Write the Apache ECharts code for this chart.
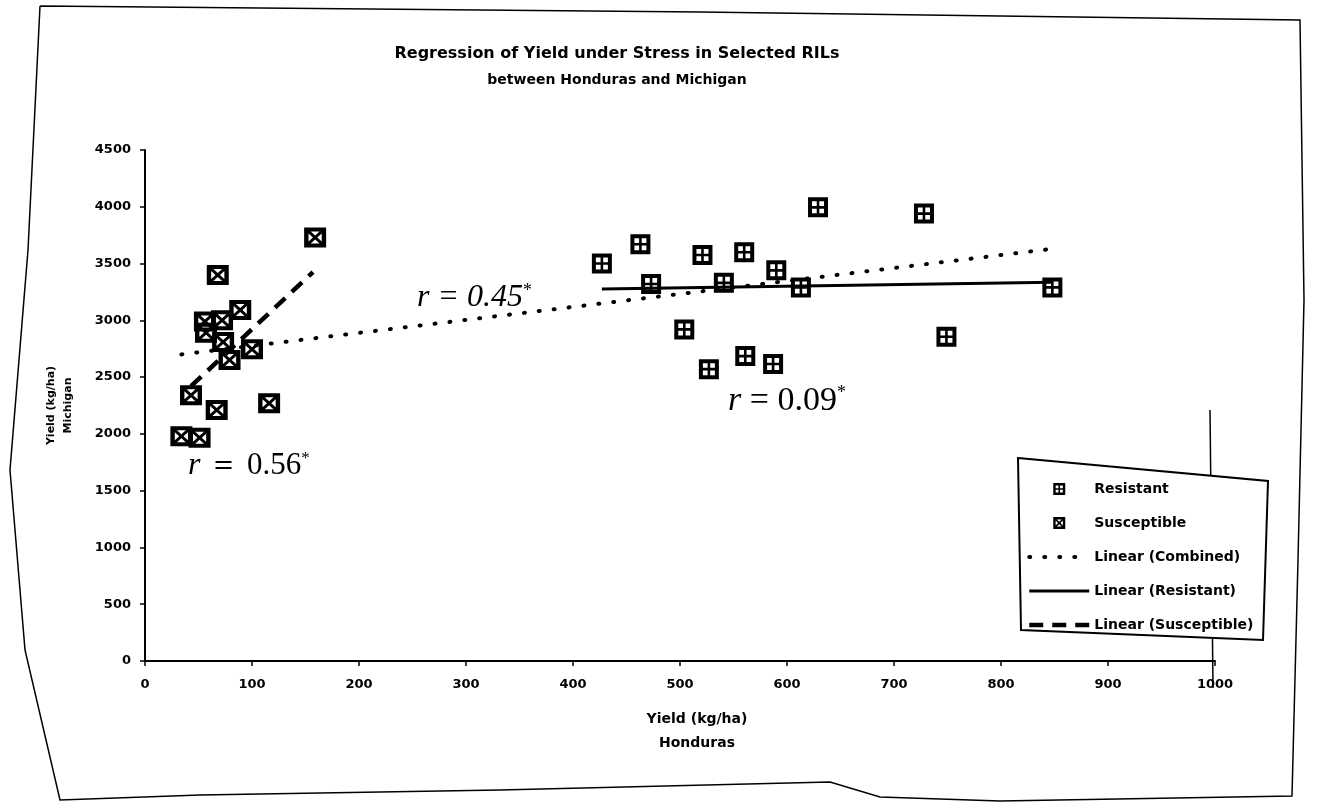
<!DOCTYPE html>
<html>
<head>
<meta charset="utf-8">
<script src="https://cdn.jsdelivr.net/npm/echarts@6/dist/echarts.min.js"></script>
<style>
  html, body { margin: 0; padding: 0; background: #fff; }
  #chart { width: 1317px; height: 810px; }
</style>
</head>
<body>
<div id="chart"></div>
<script>
// Yield (kg/ha) of selected RILs under stress: Honduras (x) against Michigan (y)
const resistantHonduras   = [427, 463, 473, 521, 560, 541, 590, 504, 527, 561, 587, 613, 629, 728, 848, 749];
const resistantMichigan   = [3500, 3670, 3320, 3575, 3600, 3330, 3440, 2920, 2570, 2685, 2615, 3290, 3995, 3940, 3290, 2855];
const susceptibleHonduras = [159, 68, 89, 56, 57, 72, 73, 79, 100, 43, 67, 116, 34, 51];
const susceptibleMichigan = [3730, 3400, 3090, 2990, 2890, 3000, 2810, 2650, 2745, 2340, 2210, 2270, 1980, 1965];

// Linear trend lines, end points
const combinedTrendX    = [34, 848];
const combinedTrendY    = [2700, 3630];
const resistantTrendX   = [427, 848];
const resistantTrendY   = [3275, 3335];
const susceptibleTrendX = [43, 157];
const susceptibleTrendY = [2420, 3425];

// Correlation labels
const rCombined = '0.45';
const rResistant = '0.09';
const rSusceptible = '0.56';

const zip = (xs, ys) => xs.map((x, i) => [x, ys[i]]);

const SANS = 'DejaVu Sans';
const SERIF = 'Liberation Serif';

// square with a plus (resistant) and square with a cross (susceptible)
const plusBox = 'path://M0 0H20V20H0Z M4 4V8.7H8.7V4Z M11.3 4V8.7H16V4Z M4 11.3V16H8.7V11.3Z M11.3 11.3V16H16V11.3Z';
const crossBox = 'path://M0 0H20V20H0Z M6 4L10 8L14 4Z M16 6L12 10L16 14Z M14 16L10 12L6 16Z M4 14L8 10L4 6Z';

// line styles of the three trend lines
const dottedStyle = { color: '#000', width: 4, type: [1, 14], cap: 'round' };
const solidStyle  = { color: '#000', width: 3, type: 'solid' };
const dashedStyle = { color: '#000', width: 4.5, type: [14, 9] };

// trend lines carry no point symbol, so the legend shows the bare line
const hiddenPoint = { color: '#000', opacity: 0 };

const chart = echarts.init(document.getElementById('chart'), null, { renderer: 'canvas' });

const option = {
  backgroundColor: '#fff',
  animation: false,
  color: ['#000'],
  title: {
    text: '{a|Regression of Yield under Stress in Selected RILs}\n{b|between Honduras and Michigan}',
    left: 612, top: 36, textAlign: 'center',
    textStyle: {
      rich: {
        a: { fontFamily: SANS, fontWeight: 'bold', fontSize: 16, lineHeight: 26, color: '#000', align: 'center' },
        b: { fontFamily: SANS, fontWeight: 'bold', fontSize: 14, lineHeight: 26, color: '#000', align: 'center' }
      }
    }
  },
  grid: { left: 145, right: 102, top: 150, bottom: 149, containLabel: false },
  xAxis: {
    type: 'value', min: 0, max: 1000, interval: 100,
    name: 'Yield (kg/ha)\nHonduras',
    nameLocation: 'middle', nameGap: 46,
    nameTextStyle: { fontFamily: SANS, fontWeight: 'bold', fontSize: 14, lineHeight: 24, color: '#000', padding: [0, 0, 0, 34] },
    axisLine: { lineStyle: { color: '#000', width: 2 } },
    axisTick: { show: true, length: 5, lineStyle: { color: '#000', width: 1.5 } },
    axisLabel: { fontFamily: SANS, fontWeight: 'bold', fontSize: 13, color: '#000', margin: 17, formatter: v => String(v) },
    splitLine: { show: false }
  },
  yAxis: {
    type: 'value', min: 0, max: 4500, interval: 500,
    name: 'Yield (kg/ha)\nMichigan',
    nameLocation: 'middle', nameGap: 68, nameRotate: 90,
    nameTextStyle: { fontFamily: SANS, fontWeight: 'bold', fontSize: 11, lineHeight: 17, color: '#000' },
    axisLine: { show: true, lineStyle: { color: '#000', width: 2 } },
    axisTick: { show: true, length: 5, lineStyle: { color: '#000', width: 1.5 } },
    axisLabel: { fontFamily: SANS, fontWeight: 'bold', fontSize: 13, color: '#000', margin: 14, formatter: v => String(v) },
    splitLine: { show: false }
  },
  legend: {
    orient: 'vertical',
    left: 1027, top: 482, z: 10,
    padding: 0,
    itemWidth: 60, itemHeight: 12, itemGap: 20,
    textStyle: { fontFamily: SANS, fontWeight: 'bold', fontSize: 14, color: '#000' },
    data: [
      { name: 'Resistant' },
      { name: 'Susceptible' },
      { name: 'Linear (Combined)', lineStyle: dottedStyle },
      { name: 'Linear (Resistant)', lineStyle: solidStyle },
      { name: 'Linear (Susceptible)', lineStyle: dashedStyle }
    ]
  },
  series: [
    {
      name: 'Linear (Combined)', type: 'line', symbol: 'none', silent: true, z: 2,
      data: zip(combinedTrendX, combinedTrendY),
      itemStyle: hiddenPoint,
      lineStyle: dottedStyle
    },
    {
      name: 'Linear (Resistant)', type: 'line', symbol: 'none', silent: true, z: 2,
      data: zip(resistantTrendX, resistantTrendY),
      itemStyle: hiddenPoint,
      lineStyle: solidStyle
    },
    {
      name: 'Linear (Susceptible)', type: 'line', symbol: 'none', silent: true, z: 2,
      data: zip(susceptibleTrendX, susceptibleTrendY),
      itemStyle: hiddenPoint,
      lineStyle: dashedStyle
    },
    {
      name: 'Resistant', type: 'scatter', z: 3,
      symbol: plusBox, symbolSize: 20,
      itemStyle: { color: '#000', opacity: 1 },
      data: zip(resistantHonduras, resistantMichigan)
    },
    {
      name: 'Susceptible', type: 'scatter', z: 3,
      symbol: crossBox, symbolSize: [22, 20],
      itemStyle: { color: '#000', opacity: 1 },
      data: zip(susceptibleHonduras, susceptibleMichigan)
    }
  ],
  graphic: [
    // page frame
    {
      type: 'polyline', silent: true, z: 0,
      shape: { points: [[40, 6], [700, 12], [1300, 20], [1304, 300], [1298, 560], [1292, 796], [1000, 801], [880, 797], [830, 782], [500, 790], [200, 795], [60, 800], [25, 650], [10, 470], [28, 250], [40, 6]] },
      style: { stroke: '#000', lineWidth: 1.5, fill: null }
    },
    // right edge line behind the legend
    {
      type: 'line', silent: true, z: 0,
      shape: { x1: 1210, y1: 410, x2: 1213, y2: 688 },
      style: { stroke: '#000', lineWidth: 1.5 }
    },
    // legend box
    {
      type: 'polygon', silent: true, z: 1,
      shape: { points: [[1018, 458], [1268, 481], [1263, 640], [1021, 630]] },
      style: { stroke: '#000', lineWidth: 2, fill: '#fff' }
    },
    // correlation coefficients
    {
      type: 'text', left: 417, top: 282, z: 10,
      style: {
        text: '{i|r = ' + rCombined + '}{s|*}',
        rich: {
          i: { fontFamily: SERIF, fontStyle: 'italic', fontSize: 32, fill: '#000' },
          s: { fontFamily: SERIF, fontSize: 18, fill: '#000', verticalAlign: 'top' }
        }
      }
    },
    {
      type: 'text', left: 728, top: 384, z: 10,
      style: {
        text: '{i|r}{n| = ' + rResistant + '}{s|*}',
        rich: {
          i: { fontFamily: SERIF, fontStyle: 'italic', fontSize: 34, fill: '#000' },
          n: { fontFamily: SERIF, fontSize: 34, fill: '#000' },
          s: { fontFamily: SERIF, fontSize: 18, fill: '#000', verticalAlign: 'top' }
        }
      }
    },
    {
      type: 'text', left: 188, top: 450, z: 10,
      style: {
        text: '{i|r}{n| ＝ ' + rSusceptible + '}{s|*}',
        rich: {
          i: { fontFamily: SERIF, fontStyle: 'italic', fontSize: 32, fill: '#000' },
          n: { fontFamily: SERIF, fontSize: 31, fill: '#000' },
          s: { fontFamily: SERIF, fontSize: 17, fill: '#000', verticalAlign: 'top' }
        }
      }
    }
  ]
};

chart.setOption(option);
</script>
</body>
</html>
